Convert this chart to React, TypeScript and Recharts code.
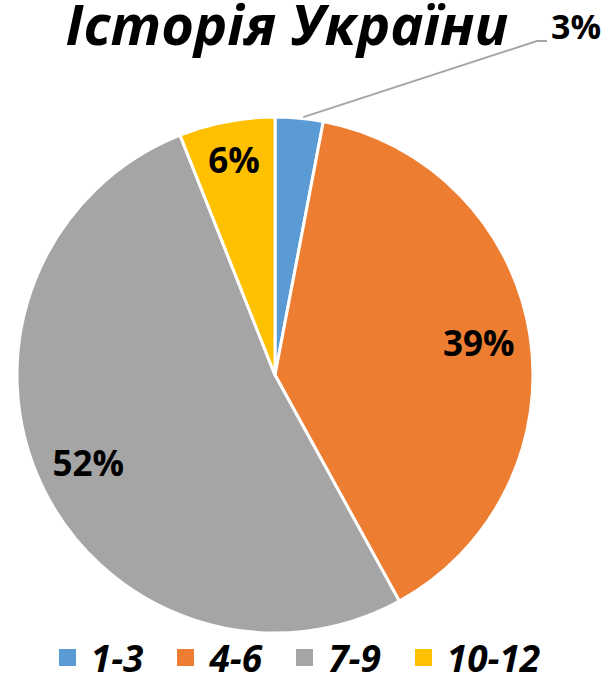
import { PieChart, Pie, Cell, Legend } from 'recharts'

const grades = ['1-3', '4-6', '7-9', '10-12']
const shares = [3, 39, 52, 6]
const colors = ['#5B9BD5', '#ED7D31', '#A5A5A5', '#FFC000']

const data = grades.map((g, i) => ({ name: g, value: shares[i] }))

const FONT = '"Open Sans", Lato, sans-serif'
const RAD = Math.PI / 180
// label distance from centre, as share of the radius (Excel "best fit" look)
const labelRadius = [1, 0.8, 0.8, 0.85]

function renderLabel(props: any) {
  const { cx, cy, midAngle, outerRadius, index, value } = props
  const cos = Math.cos(-midAngle * RAD)
  const sin = Math.sin(-midAngle * RAD)
  if (index === 0) {
    // small slice: leader line out to the top right
    const sx = cx + outerRadius * cos + 4
    const sy = cy + outerRadius * sin - 1
    const ex = 537
    const ey = 41
    return (
      <g>
        <polyline
          points={`${sx},${sy} ${ex},${ey} ${ex + 10},${ey}`}
          fill="none"
          stroke="#A5A5A5"
          strokeWidth={2}
        />
        <text x={ex + 14} y={ey - 2} fill="#000" fontSize={34} fontWeight={700} fontFamily={FONT}>
          {value}%
        </text>
      </g>
    )
  }
  const r = outerRadius * labelRadius[index]
  return (
    <text
      x={cx + r * cos}
      y={cy + r * sin}
      fill="#000"
      textAnchor="middle"
      dominantBaseline="central"
      fontSize={35}
      fontWeight={700}
      fontFamily={FONT}
    >
      {value}%
    </text>
  )
}

function LegendBox() {
  return (
    <div style={{ display: 'flex', justifyContent: 'center', gap: 34, fontFamily: FONT, marginLeft: -16 }}>
      {data.map((d, i) => (
        <div key={d.name} style={{ display: 'flex', alignItems: 'center' }}>
          <span style={{ width: 17, height: 17, background: colors[i], display: 'inline-block', marginRight: 15 }} />
          <span style={{ fontSize: 37, fontWeight: 700, fontStyle: 'italic', color: '#000', lineHeight: 'normal' }}>{d.name}</span>
        </div>
      ))}
    </div>
  )
}

export default function App() {
  return (
    <div style={{ position: 'absolute', left: 0, top: 0, width: 615, height: 683, background: '#fff' }}>
      <svg width={615} height={60} style={{ position: 'absolute', left: 0, top: 0 }}>
        <text
          x={287}
          y={45}
          textAnchor="middle"
          fontFamily={FONT}
          fontSize={56}
          fontWeight={700}
          fontStyle="italic"
          fill="#000"
        >
          Історія України
        </text>
      </svg>
      <PieChart width={615} height={683}>
        <Pie
          data={data}
          dataKey="value"
          nameKey="name"
          cx={270}
          cy={370}
          outerRadius={258}
          startAngle={90}
          endAngle={-270}
          stroke="#fff"
          strokeWidth={3}
          label={renderLabel}
          labelLine={false}
          isAnimationActive={false}
        >
          {data.map((d, i) => (
            <Cell key={d.name} fill={colors[i]} />
          ))}
        </Pie>
        <Legend verticalAlign="bottom" content={() => <LegendBox />} wrapperStyle={{ bottom: 0 }} />
      </PieChart>
    </div>
  )
}
